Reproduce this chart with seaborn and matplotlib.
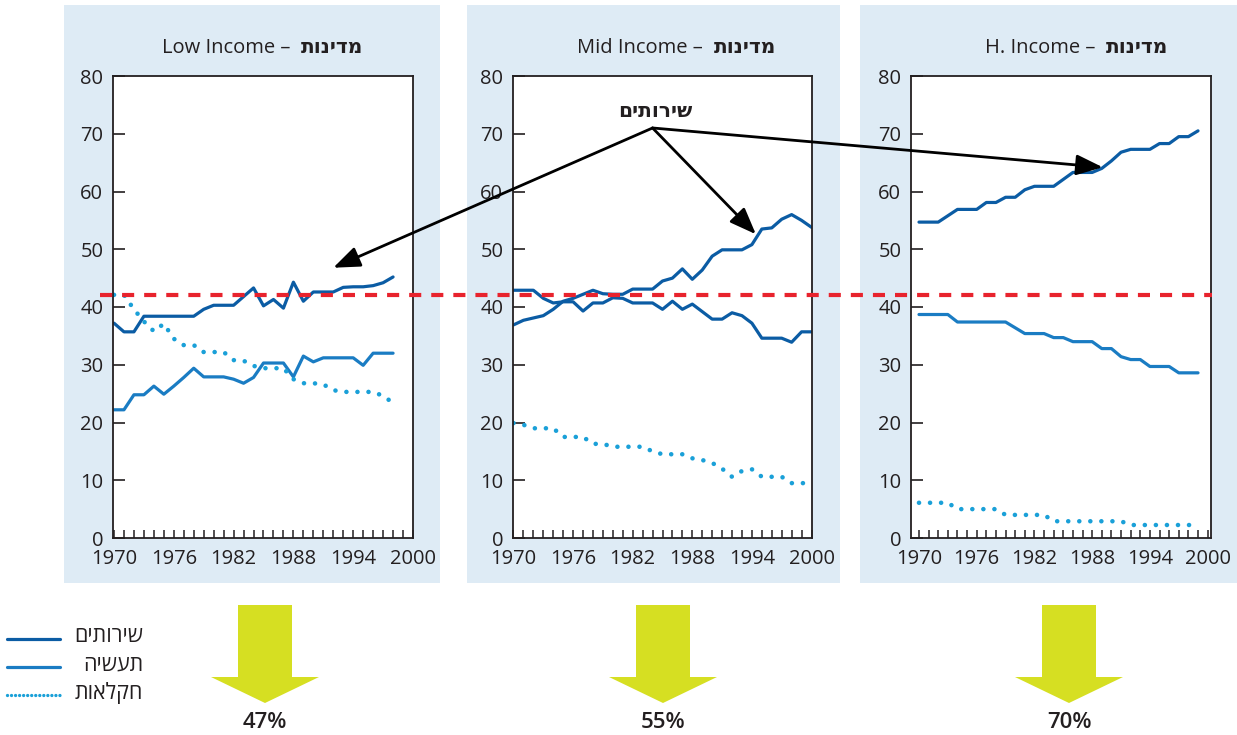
import matplotlib
matplotlib.use("Agg")
import matplotlib.pyplot as plt
import seaborn as sns
from matplotlib.patches import Rectangle, Polygon, ConnectionPatch
from matplotlib.lines import Line2D

# ---- data (share of employment, %) ----
low_years = list(range(1970, 1999))
low_services = [37.2, 35.7, 35.7, 38.4, 38.4, 38.4, 38.4, 38.4, 38.4, 39.6,
                40.3, 40.3, 40.3, 41.8, 43.3, 40.2, 41.3, 39.8, 44.3, 41.0,
                42.6, 42.6, 42.6, 43.4, 43.5, 43.5, 43.7, 44.2, 45.2]
low_industry = [22.2, 22.2, 24.8, 24.8, 26.3, 24.9, 26.3, 27.8, 29.4, 27.9,
                27.9, 27.9, 27.5, 26.8, 27.8, 30.3, 30.3, 30.3, 27.9, 31.5,
                30.5, 31.2, 31.2, 31.2, 31.2, 29.9, 32.0, 32.0, 32.0]
low_agri = [42.1, 42.1, 39.6, 37.5, 35.8, 37.1, 34.5, 33.4, 33.4, 32.2,
            32.2, 32.2, 30.8, 30.7, 29.8, 29.4, 29.4, 29.4, 27.5, 26.8,
            26.8, 26.6, 25.6, 25.3, 25.3, 25.3, 25.3, 24.6, 23.4]

mid_years = list(range(1970, 2001))
mid_services = [36.9, 37.7, 38.1, 38.5, 39.6, 41.0, 41.5, 42.2, 42.9, 42.3,
                42.2, 42.2, 43.1, 43.1, 43.1, 44.5, 45.0, 46.6, 44.8, 46.4,
                48.8, 49.9, 49.9, 49.9, 50.8, 53.5, 53.7, 55.2, 56.0, 55.0, 53.8]
mid_industry = [42.9, 42.9, 42.9, 41.5, 40.7, 40.9, 40.9, 39.3, 40.7, 40.7,
                41.6, 41.5, 40.7, 40.7, 40.7, 39.6, 41.0, 39.6, 40.5, 39.2,
                37.9, 37.9, 39.0, 38.5, 37.2, 34.6, 34.6, 34.6, 33.9, 35.7, 35.7]
mid_agri = [19.9, 19.6, 19.0, 19.0, 19.0, 17.5, 17.5, 17.5, 16.3, 16.3,
            15.8, 15.8, 15.8, 15.8, 15.0, 14.5, 14.5, 14.5, 13.8, 13.5,
            13.0, 12.0, 10.6, 11.6, 11.9, 10.6, 10.6, 10.6, 9.5, 9.5, 9.5]

high_years = list(range(1970, 2000))
high_services = [54.7, 54.7, 54.7, 55.8, 56.9, 56.9, 56.9, 58.1, 58.1, 59.0,
                 59.0, 60.3, 60.9, 60.9, 60.9, 62.1, 63.3, 63.3, 63.3, 64.0,
                 65.3, 66.8, 67.3, 67.3, 67.3, 68.3, 68.3, 69.5, 69.5, 70.5]
high_industry = [38.7, 38.7, 38.7, 38.7, 37.4, 37.4, 37.4, 37.4, 37.4, 37.4,
                 36.4, 35.4, 35.4, 35.4, 34.7, 34.7, 34.0, 34.0, 34.0, 32.8,
                 32.8, 31.4, 30.9, 30.9, 29.7, 29.7, 29.7, 28.6, 28.6, 28.6]
high_agri = [6.1, 6.1, 6.1, 6.1, 5.0, 5.0, 5.0, 5.0, 5.0, 4.0,
             4.0, 4.0, 4.0, 4.0, 2.9, 2.9, 2.9, 2.9, 2.9, 2.9,
             2.9, 2.9, 2.25, 2.25, 2.25, 2.25, 2.25, 2.25, 2.25, 2.25]

panel_names = ["Low Income", "Mid Income", "H. Income"]
services_share = [47, 55, 70]
threshold = 42.1

# hebrew strings (reversed so they read right-to-left when drawn)
he_countries = "מדינות"[::-1]
he_services = "שירותים"[::-1]
he_industry = "תעשיה"[::-1]
he_agri = "חקלאות"[::-1]

C_SERV = "#0b5ca4"
C_IND = "#1a7cc3"
C_AGRI = "#1aa0d8"
C_RED = "#e8232d"
BG = "#deebf5"
C_YEL = "#d6df22"
C_TXT = "#231f20"

sns.set_style("white")
plt.rcParams['font.family'] = ['Open Sans', 'DejaVu Sans']

W, H = 1237, 735
fig = plt.figure(figsize=(W / 100, H / 100), dpi=100)


def px_box(l, t, r, b):
    return [l / W, 1 - b / H, (r - l) / W, (b - t) / H]


# background panels
for x0, x1 in [(64, 440), (467, 840), (860, 1237)]:
    fig.add_artist(Rectangle((x0 / W, 1 - 583 / H), (x1 - x0) / W, 578 / H,
                             transform=fig.transFigure, color=BG, zorder=-1, lw=0))

layout = [
    dict(box=(113, 76, 413, 538), xlim=(1969.9, 2000.0), years=low_years,
         s=low_services, i=low_industry, a=low_agri, ind_color=C_IND,
         title_x=290),
    dict(box=(513, 76, 812, 538), xlim=(1969.95, 2000.05), years=mid_years,
         s=mid_services, i=mid_industry, a=mid_agri, ind_color=C_SERV,
         title_x=703),
    dict(box=(911, 76, 1211, 538), xlim=(1969.17, 2000.35), years=high_years,
         s=high_services, i=high_industry, a=high_agri, ind_color=C_IND,
         title_x=1095),
]

axes = []
for p, name in zip(layout, panel_names):
    ax = fig.add_axes(px_box(*p["box"]))
    ax.set_facecolor("white")
    sns.lineplot(x=p["years"], y=p["s"], ax=ax, color=C_SERV, linewidth=2.3)
    sns.lineplot(x=p["years"], y=p["i"], ax=ax, color=p["ind_color"], linewidth=2.3)
    sns.lineplot(x=p["years"], y=p["a"], ax=ax, color=C_AGRI, linewidth=3.3,
                 linestyle=(0, (0.01, 2.4)), dash_capstyle="round")
    ax.set_xlim(*p["xlim"])
    ax.set_ylim(0, 80)
    ax.set_yticks(range(0, 81, 10))
    ax.set_xticks(range(1970, 2001, 6))
    ax.set_xticks(range(1970, 2001), minor=True)
    ax.tick_params(axis="y", direction="in", length=8.5, width=1.2, pad=7,
                   labelsize=14.5, colors=C_TXT, left=True)
    ax.tick_params(axis="x", which="both", direction="in", length=5.5, width=1.1,
                   pad=8, labelsize=14.5, colors=C_TXT, bottom=True)
    ax.set_xlabel("")
    ax.set_ylabel("")
    for sp in ax.spines.values():
        sp.set_color(C_TXT)
        sp.set_linewidth(1.3)
    # title: english part + bold hebrew part
    fig.text(p["title_x"] / W, 1 - 48 / H, name + " \u2013", ha="right", va="center",
             fontsize=14.5, color=C_TXT)
    fig.text((p["title_x"] + 11) / W, 1 - 48 / H, he_countries, ha="left", va="center",
             fontsize=14.5, fontweight="bold", color=C_TXT)
    axes.append(ax)

ax_low, ax_mid, ax_high = axes

# red dashed reference line across all panels
y_fig = fig.transFigure.inverted().transform(ax_low.transData.transform((1980, threshold)))[1]
fig.add_artist(Line2D([100 / W, 1212 / W], [y_fig, y_fig], transform=fig.transFigure,
                      color=C_RED, lw=3, linestyle=(0, (2.9, 2.4)), zorder=5))

# annotation arrows for services
origin = (1984.0, 71.0)
targets = [(ax_low, (1992.0, 46.8)), (ax_mid, (1994.4, 52.6)), (ax_high, (1989.1, 64.2))]
for tax, xy in targets:
    con = ConnectionPatch(xyA=origin, coordsA="data", axesA=ax_mid,
                          xyB=xy, coordsB="data", axesB=tax,
                          arrowstyle="-|>,head_length=0.9,head_width=0.35",
                          mutation_scale=18, lw=2, color="black",
                          shrinkA=0, shrinkB=0, zorder=6)
    fig.add_artist(con)
fig.text(655 / W, 1 - 112 / H, he_services, ha="center", va="center",
         fontsize=14.5, fontweight="bold", color=C_TXT)

# legend (bottom left)
leg_items = [(he_services, C_SERV, "-", 2.3, 637),
             (he_industry, C_IND, "-", 2.3, 665),
             (he_agri, C_AGRI, (0, (0.01, 1.2)), 2.4, 693)]
for label, col, ls, lw, yy in leg_items:
    fig.add_artist(Line2D([7 / W, 60 / W], [1 - (yy + 2) / H] * 2, transform=fig.transFigure,
                          color=col, lw=lw, linestyle=ls, dash_capstyle="round"))
    fig.text(143 / W, 1 - yy / H, label, ha="right", va="center", fontsize=15.5, color=C_TXT)

# yellow down arrows with services share
for cx, share in zip([265, 663, 1069], services_share):
    pts = [(cx - 27, 605), (cx + 27, 605), (cx + 27, 677), (cx + 54, 677),
           (cx, 703), (cx - 54, 677), (cx - 27, 677)]
    fig.add_artist(Polygon([(x / W, 1 - y / H) for x, y in pts], closed=True,
                           transform=fig.transFigure, color=C_YEL, lw=0))
    fig.text(cx / W, 1 - 722 / H, f"{share}%", ha="center", va="center",
             fontsize=16, fontweight="semibold", color=C_TXT)

fig.savefig("out.png", dpi=100)
